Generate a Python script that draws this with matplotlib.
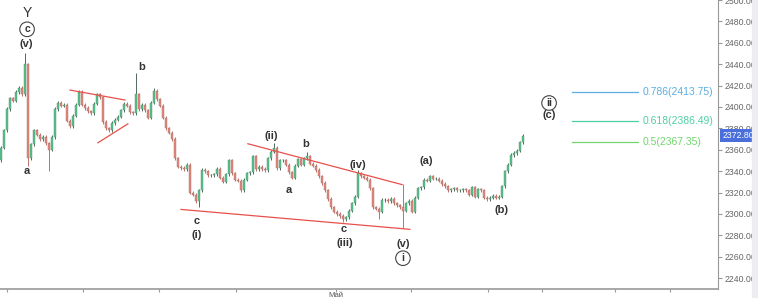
import matplotlib
matplotlib.use("Agg")
import matplotlib.pyplot as plt
import numpy as np

plt.rcParams['font.family'] = ['Liberation Sans', 'DejaVu Sans']

# closes, one per candle
closes = [
    2362, 2378, 2398, 2408, 2406, 2414, 2418, 2412, 2440, 2352,
    2365, 2378, 2374, 2370, 2372, 2366, 2360, 2372, 2398, 2404,
    2401, 2402, 2387, 2382, 2392, 2402, 2414, 2402, 2399, 2396,
    2394, 2403, 2412, 2409, 2386, 2380, 2378, 2385, 2388, 2391,
    2397, 2403, 2401, 2395, 2394, 2412, 2398, 2402, 2397, 2390,
    2404, 2415, 2407, 2401, 2390, 2380, 2376, 2370, 2352, 2344,
    2343, 2342, 2346, 2320, 2318, 2312, 2322, 2341, 2340, 2336,
    2336, 2337, 2342, 2334, 2330, 2337, 2350, 2338, 2332, 2331,
    2322, 2332, 2338, 2339, 2354, 2342, 2344, 2342, 2341, 2352,
    2358, 2362, 2343, 2350, 2350, 2346, 2339, 2334, 2345, 2351,
    2346, 2352, 2354, 2347, 2345, 2341, 2335, 2329, 2322, 2314,
    2306, 2302, 2300, 2298, 2295, 2297, 2303, 2310, 2316, 2338,
    2335, 2334, 2332, 2324, 2306, 2305, 2302, 2313, 2313, 2312,
    2314, 2310, 2308, 2306, 2303, 2310, 2312, 2302, 2315, 2324,
    2325, 2332, 2331, 2335, 2333, 2333, 2331, 2328, 2326, 2322,
    2323, 2324, 2322, 2322, 2323, 2322, 2318, 2325, 2316, 2323,
    2322, 2315, 2314, 2315, 2317, 2315, 2316, 2326, 2340, 2346,
    2355, 2357, 2359, 2367, 2373,
]
first_open = 2350
last_price = "2372.80"

# notable wick extremes: candle index -> price
spike_highs = {8: 2450, 45: 2432, 51: 2418, 91: 2366, 102: 2358, 119: 2341, 134: 2328}
spike_lows = {9: 2345, 16: 2340, 66: 2306, 114: 2292, 126: 2295, 134: 2287}

# trend lines (start index, start price, end index, end price)
trend_lines = [
    (23.0, 2415.8, 41.3, 2406.5),
    (32.3, 2366.5, 42.3, 2384.2),
    (82.3, 2365.6, 133.7, 2327.4),
    (60.0, 2304.2, 136.3, 2285.6),
]

fib_levels = [2413.75, 2386.49, 2367.35]
fib_labels = ["0.786(2413.75)", "0.618(2386.49)", "0.5(2367.35)"]
fib_colors = ["#5aaee0", "#4fd0a3", "#72d66c"]

# wave labels: (text, candle index, price)
wave_labels = [
    ("(v)", 8.3, 2458.6),
    ("a", 8.7, 2340.5),
    ("b", 47.0, 2437.2),
    ("c", 65.3, 2293.0),
    ("(i)", 65.3, 2280.0),
    ("(ii)", 90.0, 2373.0),
    ("b", 101.7, 2365.6),
    ("a", 96.0, 2321.9),
    ("(iv)", 119.0, 2346.0),
    ("c", 114.3, 2285.6),
    ("(iii)", 114.7, 2272.6),
    ("(v)", 134.0, 2271.6),
    ("(a)", 141.7, 2349.8),
    ("(b)", 167.0, 2303.3),
    ("(c)", 182.7, 2392.6),
]
circled_labels = [
    ("c", 8.7, 2472.6),
    ("i", 134.0, 2258.6),
    ("ii", 182.7, 2403.7),
]

y_ticks = [2240, 2260, 2280, 2300, 2320, 2340, 2360, 2380, 2400, 2420, 2440, 2460, 2480, 2500]
x_ticks = [2.0, 27.3, 52.7, 78.3, 111.7, 136.7, 162.3, 180.3, 204.7, 223.0]
x_tick_labels = ["", "", "", "", "Май", "", "", "", "", ""]

UP = "#52c38c"
DOWN = "#e8857b"

fig = plt.figure(figsize=(7.58, 2.98), dpi=100)
ax = fig.add_axes([0.0, 0.0302, 0.9472, 0.9698])

closes = np.array(closes, dtype=float)
opens = np.concatenate([[first_open], closes[:-1]])
idx = np.arange(len(closes))
highs = np.maximum(opens, closes) + 1.5
lows = np.minimum(opens, closes) - 1.5
for k, v in spike_highs.items():
    highs[k] = v
for k, v in spike_lows.items():
    lows[k] = v

up = closes >= opens
ax.vlines(idx[up], lows[up], highs[up], color="#4f6a5b", lw=0.7, zorder=2)
ax.vlines(idx[~up], lows[~up], highs[~up], color="#b9736b", lw=0.7, zorder=2)
ax.bar(idx[up], (closes - opens)[up], bottom=opens[up], width=0.9,
       color=UP, edgecolor="#5d8a72", lw=0.3, zorder=3)
ax.bar(idx[~up], (closes - opens)[~up], bottom=opens[~up], width=0.9,
       color=DOWN, edgecolor="#a07068", lw=0.3, zorder=3)

for x0, y0, x1, y1 in trend_lines:
    ax.plot([x0, x1], [y0, y1], color="#e8504a", lw=0.9, zorder=4)

for lvl, lab, c in zip(fib_levels, fib_labels, fib_colors):
    ax.plot([190.3, 212.3], [lvl, lvl], color=c, lw=0.9)
    ax.text(214.0, lvl, lab, color=c, fontsize=7.5, va="center", ha="left")

for t, x, y in wave_labels:
    ax.text(x, y, t, fontsize=8, fontweight="bold", color="#333333",
            ha="center", va="center", zorder=5)
for t, x, y in circled_labels:
    ax.text(x, y, t, fontsize=7.5, fontweight="bold", color="#333333",
            ha="center", va="center", zorder=5,
            bbox=dict(boxstyle="circle,pad=0.22", fc="white", ec="#444444", lw=0.8))
ax.text(8.7, 2487.4, "Y", fontsize=10, color="#333333", ha="center", va="center")

ax.set_xlim(-0.33, 239.0)
ax.set_ylim(2229.8, 2498.6)

ax.spines["top"].set_visible(False)
ax.spines["left"].set_visible(False)
ax.spines["right"].set_color("#999999")
ax.spines["bottom"].set_color("#999999")
ax.spines["bottom"].set_linewidth(1.2)

ax.yaxis.tick_right()
ax.set_yticks(y_ticks)
ax.set_yticklabels([f"{v:.2f}" for v in y_ticks])
ax.tick_params(axis="y", labelsize=6.3, labelcolor="#666666", color="#999999",
               length=3, pad=1.5)
ax.set_xticks(x_ticks)
ax.set_xticklabels(x_tick_labels)
ax.tick_params(axis="x", labelsize=5.5, labelcolor="#555555", color="#999999",
               length=2, pad=0.5)

# last price marker
ax.text(1.006, (closes[-1] - 0.2 - 2229.8) / (2498.6 - 2229.8), last_price,
        transform=ax.transAxes, fontsize=6.3, color="white", va="center", ha="left",
        zorder=6,
        bbox=dict(boxstyle="square,pad=0.25", fc="#4a6fdc", ec="none"))

fig.patches.append(plt.Rectangle((752 / 758, 0), 6 / 758, 1, transform=fig.transFigure,
                                 color="#eceef2", zorder=0))

fig.savefig("out.png", dpi=100)
